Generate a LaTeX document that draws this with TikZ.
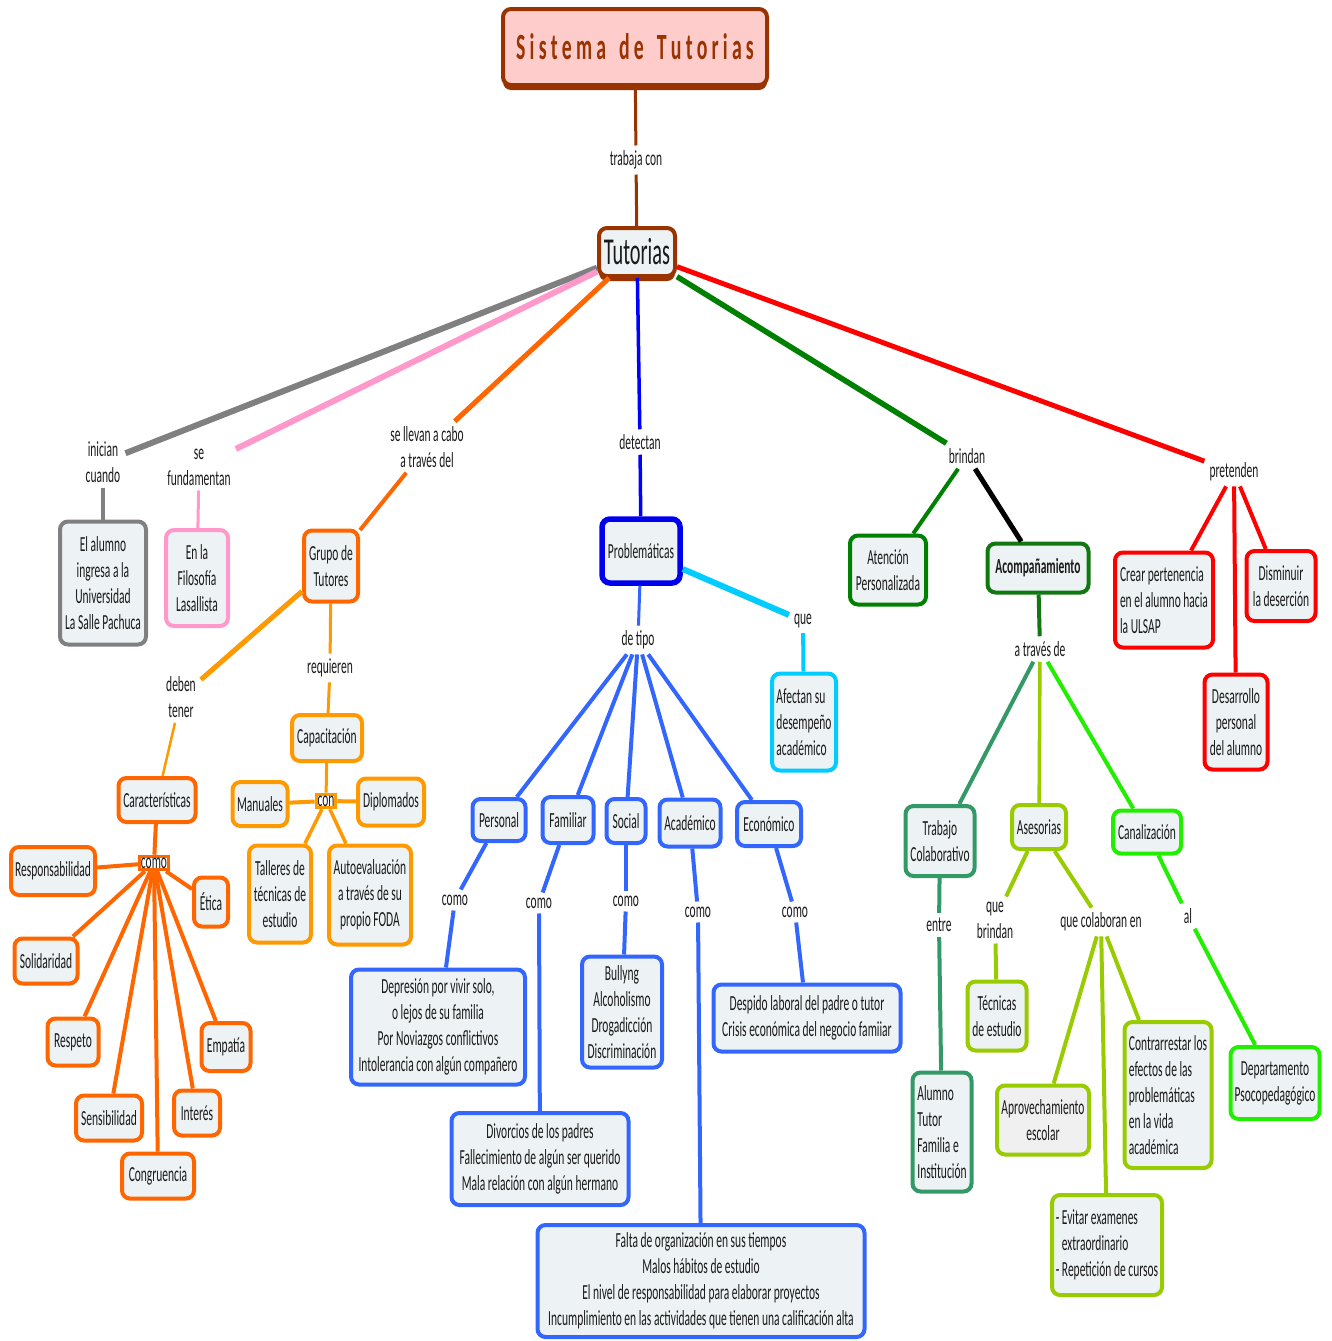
\documentclass[tikz,border=0pt]{standalone}
\usepackage{fontspec}
\setmainfont{Carlito}[FakeStretch=0.535]
\usetikzlibrary{shadows}
\definecolor{boxfill}{HTML}{EDF2F4}
\definecolor{titlefill}{HTML}{FFCCCC}
\definecolor{cbrown}{HTML}{993300}
\definecolor{cgray}{HTML}{808080}
\definecolor{cpink}{HTML}{FF99CC}
\definecolor{cor}{HTML}{FF6600}
\definecolor{cor2}{HTML}{FF9900}
\definecolor{cblue}{HTML}{0000FF}
\definecolor{cblue2}{HTML}{3366FF}
\definecolor{ccyan}{HTML}{00CCFF}
\definecolor{cgreen}{HTML}{008000}
\definecolor{cgreen2}{HTML}{117711}
\definecolor{csea}{HTML}{339966}
\definecolor{colive}{HTML}{99CC00}
\definecolor{clime}{HTML}{22EE00}
\definecolor{cred}{HTML}{FF0000}
\definecolor{txt}{HTML}{1A1A1A}
\newcommand{\msz}{\fontsize{21.5}{26}\selectfont}
\newcommand{\lsp}{\kern4.2pt}
\begin{document}
\begin{tikzpicture}[x=1pt,y=-1pt,
  box/.style={draw, rounded corners=8pt, fill=boxfill, line width=4pt, inner sep=0pt, align=center, font=\msz, text=txt},
  lab/.style={inner sep=5pt, align=center, font=\msz, text=txt},
  sq/.style={draw, line width=3pt, fill=white, inner sep=1.5pt, font=\msz, text=txt},
  brsh/.style={general shadow={fill=cbrown, shadow yshift=-5pt, rounded corners=8pt}},
  ln/.style={line width=#1}]
\useasboundingbox[fill=white] (0,0) rectangle (1332,1341);

% ---------- top ----------
\node[box, draw=cbrown, fill=titlefill, minimum width=264, minimum height=76, brsh] (title) at (635,47)
  {\fontsize{37}{40}\selectfont\bfseries\color{cbrown}S\lsp i\lsp s\lsp t\lsp e\lsp m\lsp a\hspace{13pt}d\lsp e\hspace{13pt}T\lsp u\lsp t\lsp o\lsp r\lsp i\lsp a\lsp s};
\node[lab] (ltrab) at (636,160) {trabaja con};
\node[box, draw=cbrown, minimum width=76, minimum height=48, brsh] (tut) at (637,252) {\fontsize{38}{40}\selectfont Tutorias};
\draw[cbrown, ln=3] (title) -- (ltrab);
\draw[cbrown, ln=3] (ltrab) -- (tut);

% ---------- first level labels ----------
\node[lab] (lini) at (103,462) {inician\\cuando};
\node[lab] (lfun) at (199,467) {se\\fundamentan};
\node[lab] (llev) at (427,447) {se llevan a cabo\\a través del};
\node[lab] (ldet) at (640,442) {detectan};
\node[lab] (lbri) at (967,456) {brindan};
\node[lab] (lpre) at (1234,472) {pretenden};

\draw[cgray, ln=6] (tut) -- (lini);
\draw[cpink, ln=6] (tut) -- (lfun);
\draw[cor, ln=5] (tut) -- (llev);
\draw[cblue, ln=3.5] (tut) -- (ldet);
\draw[cgreen, ln=5.5] (tut) -- (lbri);
\draw[cred, ln=5] (tut) -- (lpre);

% ---------- first level boxes ----------
\node[box, draw=cgray, minimum width=86, minimum height=123] (alum) at (103,583) {El alumno\\ingresa a la\\Universidad\\La Salle Pachuca};
\node[box, draw=cpink, minimum width=62, minimum height=96] (filo) at (197,578) {En la\\Filosofía\\Lasallista};
\node[box, draw=cor, minimum width=54, minimum height=71] (grupo) at (331,566) {Grupo de\\Tutores};
\node[box, draw=cblue!93!black, line width=5.5pt, minimum width=78, minimum height=64] (prob) at (641,551) {Problemáticas};
\node[box, draw=cgreen, minimum width=76, minimum height=69] (aten) at (888,570) {Atención\\Personalizada};
\node[box, draw=cgreen2, minimum width=101, minimum height=49] (acomp) at (1038,568) {\bfseries Acompañamiento};
\node[box, draw=cred, minimum width=98, minimum height=95, align=left] (crear) at (1164,600) {Crear pertenencia\\en el alumno hacia\\la ULSAP};
\node[box, draw=cred, minimum width=69, minimum height=70] (dism) at (1281,586) {Disminuir\\la deserción};
\node[box, draw=cred, minimum width=63, minimum height=95] (desa) at (1236,722) {Desarrollo\\personal\\del alumno};

\draw[cgray, ln=3.5] (lini) -- (alum);
\draw[cpink, ln=3] (lfun) -- (filo);
\draw[cor, ln=4] (llev) -- (grupo);
\draw[cblue, ln=3.5] (ldet) -- (prob);
\draw[cgreen, ln=4] (lbri) -- (aten);
\draw[black, ln=5] (lbri) -- (acomp);
\draw[cred, ln=4] (lpre) -- (crear);
\draw[cred, ln=4] (lpre) -- (desa);
\draw[cred, ln=4] (lpre) -- (dism);

% ---------- Grupo de Tutores ----------
\node[lab] (ldeb) at (181,697) {deben\\tener};
\node[lab] (lreq) at (330,668) {requieren};
\draw[cor2, ln=5] (grupo) -- (ldeb);
\draw[cor2, ln=3] (grupo) -- (lreq);
\node[box, draw=cor2, minimum width=70, minimum height=46] (capa) at (327,738) {Capacitación};
\draw[cor2, ln=3] (lreq) -- (capa);
\node[sq, draw=cor2] (lcon) at (326,801) {con};
\draw[cor2, ln=3] (capa) -- (lcon);
\node[box, draw=cor2, minimum width=55, minimum height=44] (manu) at (260,804) {Manuales};
\node[box, draw=cor2, minimum width=66, minimum height=47] (dipl) at (391,802) {Diplomados};
\node[box, draw=cor2, minimum width=62, minimum height=97] (tall) at (280,894) {Talleres de\\técnicas de\\estudio};
\node[box, draw=cor2, minimum width=82, minimum height=99] (auto) at (370,895) {Autoevaluación\\a través de su\\propio FODA};
\draw[cor2, ln=4] (lcon) -- (manu);
\draw[cor2, ln=4] (lcon) -- (dipl);
\draw[cor2, ln=3.5] (lcon) -- (tall);
\draw[cor2, ln=3.5] (lcon) -- (auto);

\node[box, draw=cor, minimum width=77, minimum height=44] (cara) at (157,800) {Características};
\draw[cor2, ln=2.5] (ldeb) -- (cara);
\node[sq, draw=cor] (lcomo) at (154,863) {como};
\draw[cor, ln=4] (cara) -- (lcomo);
\node[box, draw=cor, minimum width=84, minimum height=48] (resp) at (53,871) {Responsabilidad};
\node[box, draw=cor, minimum width=34, minimum height=49] (etic) at (211,902) {Ética};
\node[box, draw=cor, minimum width=63, minimum height=45] (soli) at (46,961) {Solidaridad};
\node[box, draw=cor, minimum width=51, minimum height=47] (respe) at (73,1042) {Respeto};
\node[box, draw=cor, minimum width=49, minimum height=48] (empa) at (226,1047) {Empatía};
\node[box, draw=cor, minimum width=66, minimum height=45] (sens) at (109,1118) {Sensibilidad};
\node[box, draw=cor, minimum width=46, minimum height=45] (inte) at (197,1113) {Interés};
\node[box, draw=cor, minimum width=72, minimum height=45] (cong) at (158,1176) {Congruencia};
\foreach \n in {resp,etic,soli,respe,empa,sens,inte,cong}
  \draw[cor, ln=4] (lcomo) -- (\n);

% ---------- Problemáticas ----------
\node[lab] (ltipo) at (638,640) {de tipo};
\node[lab] (lque) at (803,621) {que};
\draw[cblue2, ln=3] (prob) -- (ltipo);
\draw[ccyan, ln=6] (prob) -- (lque);
\node[box, draw=ccyan, minimum width=64, minimum height=97, align=left] (afec) at (804,722) {Afectan su\\desempeño\\académico};
\draw[ccyan, ln=4] (lque) -- (afec);

\node[box, draw=cblue2, minimum width=53, minimum height=42] (pers) at (499,820) {Personal};
\node[box, draw=cblue2, minimum width=51, minimum height=46] (fami) at (568,820) {Familiar};
\node[box, draw=cblue2, minimum width=39, minimum height=44] (soci) at (626,821) {Social};
\node[box, draw=cblue2, minimum width=61, minimum height=47] (acad) at (690,823) {Académico};
\node[box, draw=cblue2, minimum width=64, minimum height=44] (econ) at (769,824) {Económico};
\foreach \n in {pers,fami,soci,acad,econ}
  \draw[cblue2, ln=4] (ltipo) -- (\n);

\node[lab] (lc1) at (455,900) {como};
\node[lab] (lc2) at (539,903) {como};
\node[lab] (lc3) at (626,901) {como};
\node[lab] (lc4) at (698,912) {como};
\node[lab] (lc5) at (795,912) {como};
\draw[cblue2, ln=4] (pers) -- (lc1);
\draw[cblue2, ln=4] (fami) -- (lc2);
\draw[cblue2, ln=4] (soci) -- (lc3);
\draw[cblue2, ln=4] (acad) -- (lc4);
\draw[cblue2, ln=4] (econ) -- (lc5);

\node[box, draw=cblue2, minimum width=174, minimum height=115] (depr) at (438,1027) {Depresión por vivir solo,\\o lejos de su familia\\Por Noviazgos conflictivos\\Intolerancia con algún compañero};
\node[box, draw=cblue2, minimum width=177, minimum height=92] (divo) at (540,1159) {Divorcios de los padres\\Fallecimiento de algún ser querido\\Mala relación con algún hermano};
\node[box, draw=cblue2, minimum width=80, minimum height=111] (bull) at (622,1012) {Bullyng\\Alcoholismo\\Drogadicción\\Discriminación};
\node[box, draw=cblue2, minimum width=327, minimum height=112] (falt) at (701,1281) {Falta de organización en sus tiempos\\Malos hábitos de estudio\\El nivel de responsabilidad para elaborar proyectos\\Incumplimiento en las actividades que tienen una calificación alta};
\node[box, draw=cblue2, minimum width=187, minimum height=67] (desp) at (807,1018) {Despido laboral del padre o tutor\\Crisis económica del negocio famiiar};
\draw[cblue2, ln=4] (lc1) -- (depr);
\draw[cblue2, ln=4] (lc2) -- (divo);
\draw[cblue2, ln=4] (lc3) -- (bull);
\draw[cblue2, ln=4] (lc4) -- (falt);
\draw[cblue2, ln=4] (lc5) -- (desp);

% ---------- Acompañamiento ----------
\node[lab] (latr) at (1040,649) {a través de};
\draw[cgreen2, ln=4] (acomp) -- (latr);
\node[box, draw=csea, minimum width=69, minimum height=70] (trab) at (940,841) {Trabajo\\Colaborativo};
\node[box, draw=colive, minimum width=54, minimum height=44] (ases) at (1039,827) {Asesorias};
\node[box, draw=clime, minimum width=68, minimum height=43] (cana) at (1147,832) {Canalización};
\draw[csea, ln=4] (latr) -- (trab);
\draw[colive, ln=3.5] (latr) -- (ases);
\draw[clime, ln=4] (latr) -- (cana);

\node[lab] (lent) at (939,925) {entre};
\node[box, draw=csea, minimum width=59, minimum height=119, align=left] (alut) at (942,1132) {Alumno\\Tutor\\Familia e\\Institución};
\draw[csea, ln=4] (trab) -- (lent);
\draw[csea, ln=4] (lent) -- (alut);

\node[lab] (lqb) at (995,920) {que\\brindan};
\node[lab] (lqc) at (1101,922) {que colaboran en};
\draw[colive, ln=4] (ases) -- (lqb);
\draw[colive, ln=4] (ases) -- (lqc);
\node[box, draw=colive, minimum width=59, minimum height=69] (tecn) at (997,1016) {Técnicas\\de estudio};
\draw[colive, ln=4] (lqb) -- (tecn);
\node[box, draw=colive, fill=gray!12, minimum width=92, minimum height=69] (apro) at (1043,1120) {Aprovechamiento\\escolar};
\node[box, draw=colive, minimum width=110, minimum height=100, align=left] (evit) at (1107,1245) {- Evitar examenes\\\hspace*{6pt}extraordinario\\- Repetición de cursos};
\node[box, draw=colive, minimum width=87, minimum height=146, align=left] (cont) at (1168,1095) {Contrarrestar los\\efectos de las\\problemáticas\\en la vida\\académica};
\draw[colive, ln=4] (lqc) -- (apro);
\draw[colive, ln=4] (lqc) -- (evit);
\draw[colive, ln=4] (lqc) -- (cont);

\node[lab] (lal) at (1188,916) {al};
\node[box, draw=clime, minimum width=89, minimum height=72] (dept) at (1275,1083) {Departamento\\Psocopedagógico};
\draw[clime, ln=4] (cana) -- (lal);
\draw[clime, ln=4] (lal) -- (dept);
\end{tikzpicture}
\end{document}
